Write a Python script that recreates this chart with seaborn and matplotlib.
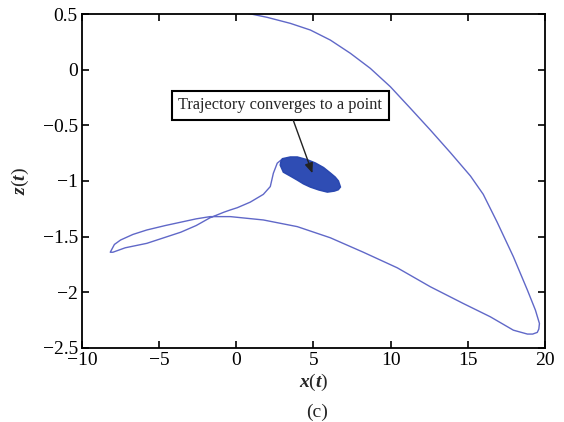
import matplotlib
matplotlib.use("Agg")
import matplotlib.pyplot as plt
import seaborn as sns
import pandas as pd

# trajectory x(t), z(t)
traj_x = [0.6, 2.0, 3.5, 4.8, 6.09, 7.39, 8.68, 9.98, 11.28, 12.57, 13.87, 15.17, 16.0,
          16.9, 17.95, 18.86, 19.38, 19.64, 19.6, 19.5, 19.2, 18.86, 17.95, 16.46, 14.7,
          12.57, 10.43, 8.23, 6.09, 3.95, 1.75, -0.39, -1.7, -2.6, -3.6, -4.6, -5.8, -6.7,
          -7.5, -7.9, -8.17, -8.0, -7.2, -5.8, -4.7, -3.6, -2.6, -1.7, -0.8, -0.39, 0.06,
          0.9, 1.75, 2.2, 2.4, 2.65, 3.0]
traj_z = [0.51, 0.47, 0.416, 0.356, 0.266, 0.147, 0.012, -0.153, -0.347, -0.542, -0.745,
          -0.955, -1.12, -1.37, -1.68, -1.98, -2.16, -2.28, -2.33, -2.36, -2.375, -2.375,
          -2.34, -2.22, -2.10, -1.95, -1.78, -1.64, -1.51, -1.41, -1.35, -1.32, -1.32, -1.34,
          -1.37, -1.40, -1.44, -1.48, -1.53, -1.57, -1.64, -1.64, -1.60, -1.56, -1.51, -1.46,
          -1.40, -1.33, -1.28, -1.26, -1.24, -1.19, -1.12, -1.05, -0.93, -0.84, -0.80]

# outline of the dense converging spiral (blob)
blob_x = [3.0, 3.5, 3.95, 4.6, 5.12, 5.65, 6.09, 6.4, 6.61, 6.74, 6.6, 6.35, 5.9, 5.35,
          4.8, 4.35, 3.95, 3.5, 3.05, 2.85, 2.9]
blob_z = [-0.80, -0.785, -0.785, -0.81, -0.839, -0.88, -0.929, -0.965, -1.0, -1.054, -1.078,
          -1.09, -1.099, -1.08, -1.054, -1.025, -0.991, -0.955, -0.92, -0.857, -0.82]

x_ticks = [-10, -5, 0, 5, 10, 15, 20]
y_ticks = [-2.5, -2, -1.5, -1, -0.5, 0, 0.5]

sns.set_style("ticks")
plt.rcParams["font.family"] = ["Liberation Serif", "DejaVu Serif"]
plt.rcParams["mathtext.fontset"] = "custom"
plt.rcParams["mathtext.rm"] = "Liberation Serif"
plt.rcParams["mathtext.it"] = "Liberation Serif:italic:bold"
plt.rcParams["axes.unicode_minus"] = True

fig = plt.figure(figsize=(5.64, 4.22), dpi=100)
ax = fig.add_axes([0.1454, 0.1754, 0.8209, 0.7914])

df = pd.DataFrame({"x": traj_x, "z": traj_z})
sns.lineplot(data=df, x="x", y="z", sort=False, estimator=None, ax=ax,
             color="#6068c8", linewidth=1.0)
ax.lines[-1].set_solid_joinstyle("round")
ax.fill(blob_x, blob_z, color="#2f4db4", linewidth=1.2, edgecolor="#2a48b0", zorder=3)

ax.set_xlim(-10, 20)
ax.set_ylim(-2.5, 0.5)
ax.set_xticks(x_ticks)
ax.set_yticks(y_ticks)
ax.set_xticklabels([f"{v:g}".replace("-", "\u2212") for v in x_ticks])
ax.set_yticklabels([f"{v:g}".replace("-", "\u2212") for v in y_ticks])
ax.tick_params(direction="in", length=5, width=1.2, top=True, right=True,
               labelsize=14, pad=3, colors="black")
for s in ax.spines.values():
    s.set_visible(True)
    s.set_linewidth(1.3)
    s.set_color("black")

ax.set_xlabel("$x(t)$", fontsize=14, labelpad=2)
ax.set_ylabel("$z(t)$", fontsize=14, labelpad=8)
fig.text(0.5621, 0.024, "(c)", ha="center", va="center", fontsize=14)

ax.text(2.85, -0.318, "Trajectory converges to a point", ha="center", va="center",
        fontsize=11.8, zorder=5,
        bbox=dict(boxstyle="square,pad=0.4", facecolor="white", edgecolor="black",
                  linewidth=1.5))
ax.annotate("", xy=(4.93, -0.93), xytext=(3.69, -0.455),
            arrowprops=dict(arrowstyle="-|>,head_length=0.6,head_width=0.25",
                            color="#222222", linewidth=1.0, shrinkA=0, shrinkB=0),
            zorder=6)

fig.savefig("out.png", dpi=100)
